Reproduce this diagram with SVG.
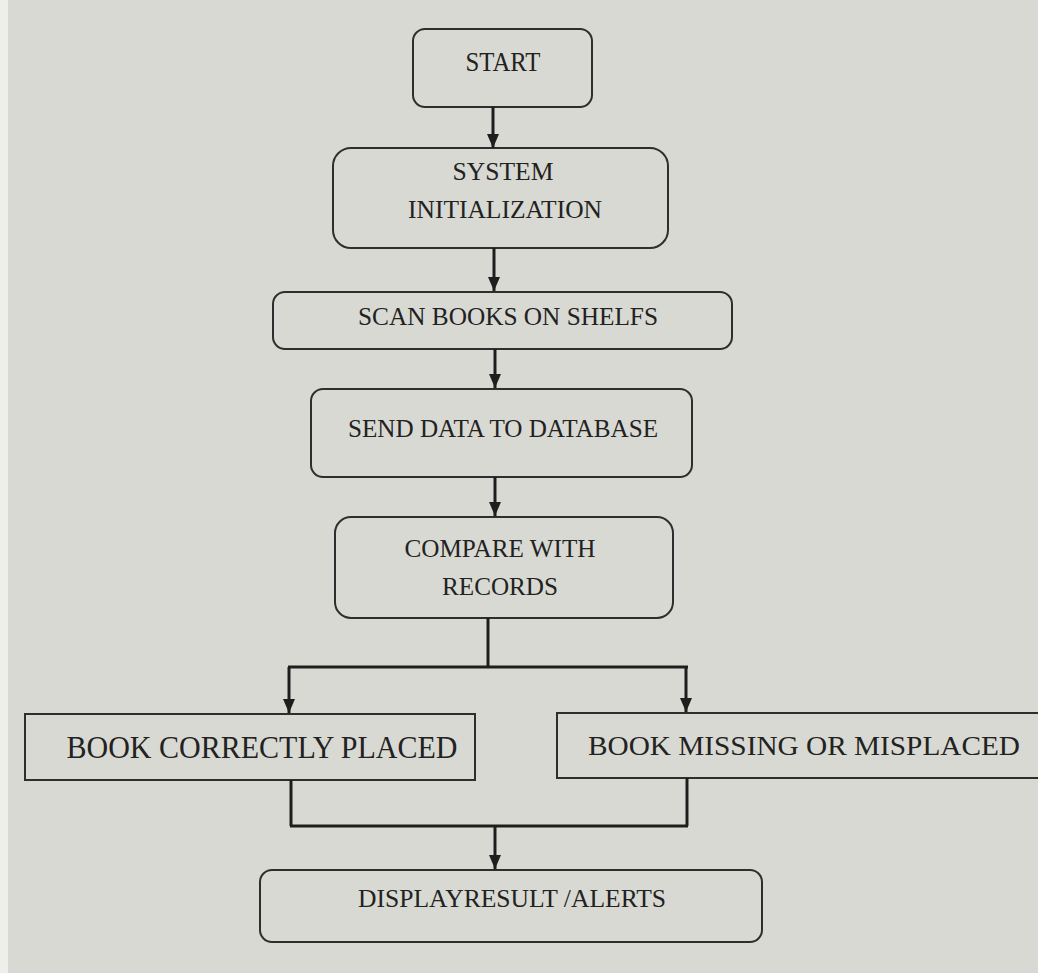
<svg xmlns="http://www.w3.org/2000/svg" width="1038" height="973" viewBox="0 0 1038 973">
<style>
.bg{fill:#d9d9d3}
.box{fill:none;stroke:#2e2e2e;stroke-width:2}
.t{font-family:"Liberation Serif","Times New Roman",serif;fill:#222;text-anchor:middle}
.c{fill:none;stroke:#1e1e1e;stroke-width:3}
</style>
<defs>
<marker id="ah" markerUnits="userSpaceOnUse" markerWidth="14" markerHeight="14" refX="14" refY="6" orient="auto">
<path d="M0,0 L14,6 L0,12 z" fill="#1e1e1e"/>
</marker>
</defs>
<rect class="bg" x="0" y="0" width="1038" height="973"/>
<rect x="0" y="0" width="8" height="973" fill="#eeeeea"/>
<g id="start">
<rect class="box" x="413" y="29" width="179" height="78" rx="12"/>
<text class="t" x="503" y="71" font-size="27" textLength="75" lengthAdjust="spacingAndGlyphs">START</text>
</g>
<g id="init">
<rect class="box" x="333" y="148" width="335" height="100" rx="18"/>
<text class="t" x="503" y="180" font-size="26" textLength="101" lengthAdjust="spacingAndGlyphs">SYSTEM</text>
<text class="t" x="505" y="218" font-size="26" textLength="194" lengthAdjust="spacingAndGlyphs">INITIALIZATION</text>
</g>
<g id="scan">
<rect class="box" x="273" y="292" width="459" height="57" rx="12"/>
<text class="t" x="508" y="325" font-size="25" textLength="300" lengthAdjust="spacingAndGlyphs">SCAN BOOKS ON SHELFS</text>
</g>
<g id="send">
<rect class="box" x="311" y="389" width="381" height="88" rx="12"/>
<text class="t" x="503" y="437" font-size="25" textLength="310" lengthAdjust="spacingAndGlyphs">SEND DATA TO DATABASE</text>
</g>
<g id="compare">
<rect class="box" x="335" y="517" width="338" height="101" rx="16"/>
<text class="t" x="500" y="557" font-size="25" textLength="191" lengthAdjust="spacingAndGlyphs">COMPARE WITH</text>
<text class="t" x="500" y="595" font-size="26" textLength="116" lengthAdjust="spacingAndGlyphs">RECORDS</text>
</g>
<g id="correct">
<rect class="box" x="25" y="714" width="450" height="66"/>
<text class="t" x="262" y="758" font-size="31" textLength="391" lengthAdjust="spacingAndGlyphs">BOOK CORRECTLY PLACED</text>
</g>
<g id="missing">
<path class="box" d="M1038,713 H557 V778 H1038"/>
<text class="t" x="804" y="755" font-size="28" textLength="432" lengthAdjust="spacingAndGlyphs">BOOK MISSING OR MISPLACED</text>
</g>
<g id="display">
<rect class="box" x="260" y="870" width="502" height="72" rx="12"/>
<text class="t" x="512" y="907" font-size="26" textLength="308" lengthAdjust="spacingAndGlyphs">DISPLAYRESULT /ALERTS</text>
</g>
<g id="connectors">
<line class="c" x1="493" y1="107" x2="493" y2="148" marker-end="url(#ah)"/>
<line class="c" x1="494" y1="248" x2="494" y2="291" marker-end="url(#ah)"/>
<line class="c" x1="495" y1="349" x2="495" y2="388" marker-end="url(#ah)"/>
<line class="c" x1="495" y1="477" x2="495" y2="516" marker-end="url(#ah)"/>
<line class="c" x1="488" y1="618" x2="488" y2="667"/>
<line class="c" x1="288" y1="667" x2="688" y2="667"/>
<line class="c" x1="289" y1="667" x2="289" y2="713" marker-end="url(#ah)"/>
<line class="c" x1="686" y1="667" x2="686" y2="712" marker-end="url(#ah)"/>
<line class="c" x1="291" y1="780" x2="291" y2="826"/>
<line class="c" x1="687" y1="778" x2="687" y2="826"/>
<line class="c" x1="290" y1="826" x2="688" y2="826"/>
<line class="c" x1="495" y1="826" x2="495" y2="869" marker-end="url(#ah)"/>
</g>
</svg>
